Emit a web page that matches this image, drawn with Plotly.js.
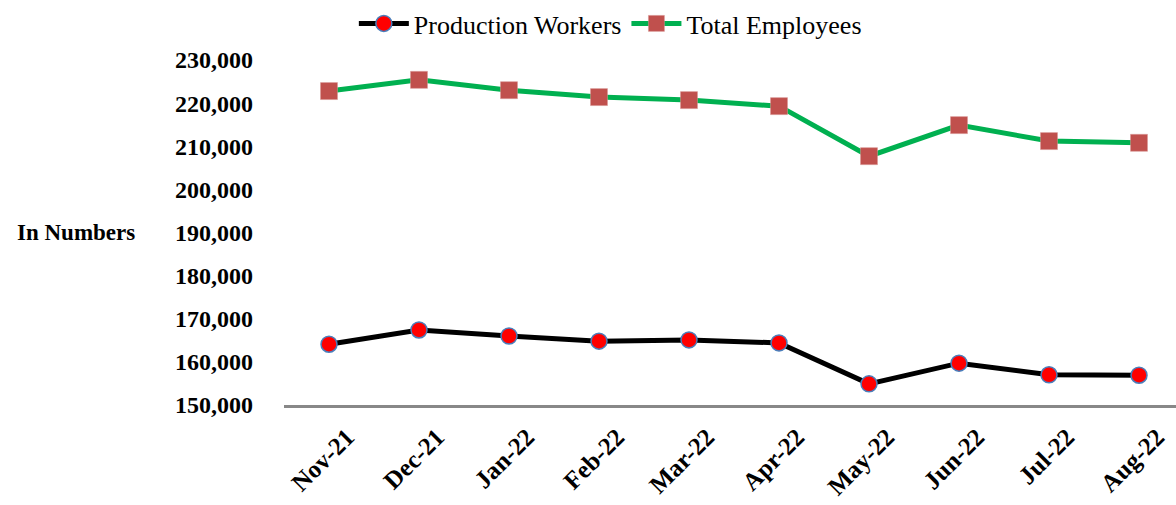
<!DOCTYPE html>
<html>
<head>
<meta charset="utf-8">
<script src="https://cdn.plot.ly/plotly-3.0.1.min.js"></script>
<style>html,body{margin:0;padding:0;background:#fff;}#chart{width:1176px;height:505px;}</style>
</head>
<body>
<div id="chart"></div>
<script>
const months = ["Nov-21","Dec-21","Jan-22","Feb-22","Mar-22","Apr-22","May-22","Jun-22","Jul-22","Aug-22"];
const productionWorkers = [164100,167400,166000,164800,165100,164400,154900,159700,157000,156900];
const totalEmployees = [222800,225400,223000,221400,220700,219300,207700,214900,211200,210800];
const yTicks = [150000,160000,170000,180000,190000,200000,210000,220000,230000];

const serif = '"Liberation Serif", "Times New Roman", serif';

const traces = [
  {
    x: months, y: productionWorkers, name: "Production Workers",
    type: "scatter", mode: "lines+markers",
    line: {color: "#000000", width: 5},
    marker: {symbol: "circle", size: 16, color: "#ff0000", line: {color: "#4a7ebb", width: 1.5}}
  },
  {
    x: months, y: totalEmployees, name: "Total Employees",
    type: "scatter", mode: "lines+markers",
    line: {color: "#00b050", width: 5},
    marker: {symbol: "square", size: 17, color: "#c0504d", line: {color: "#d99694", width: 0.5}}
  }
];

const layout = {
  width: 1176, height: 505,
  margin: {l: 284, r: 0, t: 60, b: 100},
  paper_bgcolor: "#ffffff", plot_bgcolor: "#ffffff",
  font: {family: serif, color: "#000000"},
  showlegend: true,
  legend: {
    orientation: "h", xref: "container", yref: "container",
    x: 0.519, xanchor: "center", y: 1, yanchor: "top",
    font: {family: serif, size: 26, color: "#000"},
    itemwidth: 50, tracegroupgap: 0
  },
  xaxis: {
    type: "category", range: [-0.5, 9.411],
    showgrid: false, zeroline: false,
    showline: true, linecolor: "#888888", linewidth: 2.5,
    ticks: "", tickangle: -45,
    tickfont: {family: serif, size: 25, color: "#000", weight: "bold"},
    ticklabelstandoff: 5, ticklabelshift: 18
  },
  yaxis: {
    range: [150000, 230000], tickvals: yTicks,
    tickformat: ",d",
    showgrid: false, zeroline: false, showline: false, ticks: "",
    tickfont: {family: serif, size: 24, color: "#000", weight: "bold"},
    ticklabelstandoff: 30
  },
  annotations: [{
    text: "<b>In Numbers</b>", xref: "paper", yref: "paper",
    x: (76 - 284) / 892, y: 0.5, xanchor: "center", yanchor: "middle",
    showarrow: false, font: {family: serif, size: 23, color: "#000"}
  }]
};

Plotly.newPlot("chart", traces, layout, {staticPlot: true, displayModeBar: false});
</script>
</body>
</html>
